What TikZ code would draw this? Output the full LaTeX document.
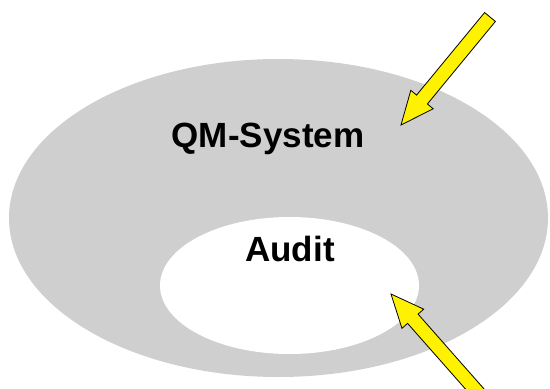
\documentclass[tikz,border=0pt]{standalone}
\usepackage{fontspec}
\setmainfont{Liberation Sans}
\usetikzlibrary{shapes.geometric,calc}

\newcommand{\blockarrow}[2]{%
  \coordinate (neck) at ($(#2)!33pt!(#1)$);
  \draw[hint] ($(#1)!7pt!90:(#2)$) -- ($(neck)!7pt!90:(#2)$) -- ($(neck)!14.5pt!90:(#2)$)
    -- (#2) -- ($(neck)!14.5pt!-90:(#2)$) -- ($(neck)!7pt!-90:(#2)$) -- ($(#1)!7pt!-90:(#2)$) -- cycle;
}

\begin{document}
\begin{tikzpicture}[
  x=1pt, y=-1pt,
  outer/.style={ellipse,fill=black!19,minimum width=539pt,minimum height=318pt,inner sep=0pt},
  inner/.style={ellipse,fill=white,minimum width=259pt,minimum height=137pt,inner sep=0pt},
  title/.style={anchor=base,font=\fontsize{35}{42}\selectfont\bfseries},
  hint/.style={fill=yellow,draw=black,line width=0.8pt,line join=miter}
]
\clip (0,0) rectangle (550,389);

\node[outer] (qm) at (278.5,218) {};
\node[inner] (audit) at (289.5,285.5) {};

\node[title] (qmtext) at (268,147) {QM-System};
\node[title] (audittext) at (290,261) {Audit};

\coordinate (tail1) at (490,17);
\coordinate (tip1) at (401,125);
\coordinate (tail2) at (488,404);
\coordinate (tip2) at (391,294);

\blockarrow{tail1}{tip1}
\blockarrow{tail2}{tip2}

\end{tikzpicture}
\end{document}
